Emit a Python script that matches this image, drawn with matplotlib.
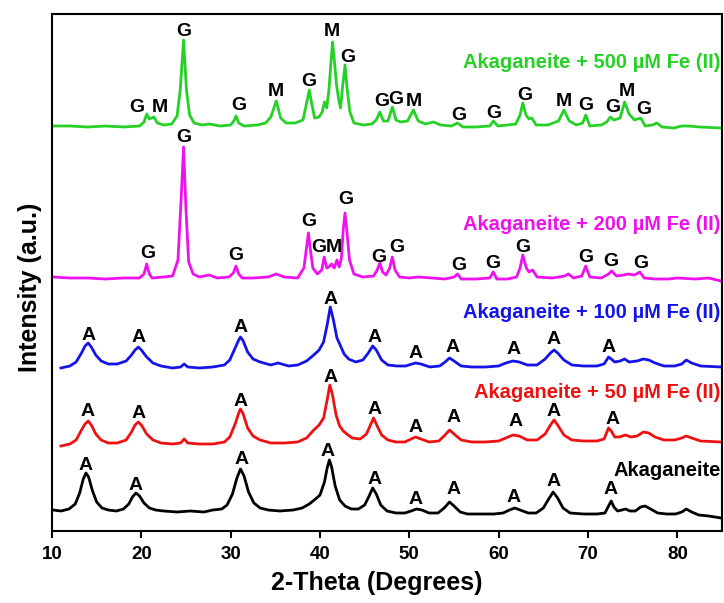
import numpy as np
import matplotlib
matplotlib.use("Agg")
import matplotlib.pyplot as plt

plt.rcParams['font.family'] = ['Liberation Sans', 'DejaVu Sans']
plt.rcParams['font.weight'] = 'bold'

# ---- XRD patterns, 2-theta (deg) vs intensity (a.u., stacked) ----
# Akaganeite
bk_x = [10.1, 11.0, 11.9, 12.6, 13.1, 13.5, 13.8, 14.1, 14.5, 15.0, 15.6, 16.3, 17.2, 18.0, 18.6,
        19.0, 19.4, 19.8, 20.3, 20.9, 21.6, 22.5, 24.0, 25.5, 27.0, 28.0, 29.0, 29.6, 30.2, 30.7,
        31.1, 31.5, 32.0, 32.6, 33.3, 34.2, 35.5, 37.0, 38.0, 38.8, 39.5, 40.0, 40.5, 40.8, 41.05,
        41.3, 41.7, 42.2, 42.8, 43.5, 44.3, 45.0, 45.5, 45.9, 46.3, 46.8, 47.5, 48.5, 49.5, 50.2,
        50.8, 51.4, 52.2, 53.2, 53.9, 54.5, 55.0, 55.7, 56.5, 58.0, 59.5, 60.5, 61.2, 61.8, 62.4,
        63.3, 64.2, 65.0, 65.6, 66.1, 66.6, 67.2, 68.0, 69.5, 71.0, 71.9, 72.3, 72.6, 72.9, 73.3,
        73.8, 74.2, 74.7, 75.3, 75.9, 76.4, 77.0, 77.8, 78.8, 79.8, 80.5, 81.0, 81.6, 82.4, 83.5, 84.9]
bk_y = [20, 19, 21, 26, 37, 51, 57, 53, 40, 28, 22, 20, 19, 21, 26,
        33, 37, 34, 27, 22, 20, 19, 18, 19, 18, 20, 21, 25, 36, 52,
        61, 54, 38, 27, 22, 20, 19, 20, 22, 26, 31, 35, 48, 62, 70,
        63, 44, 30, 24, 21, 21, 25, 34, 42, 36, 25, 19, 17, 17, 19,
        21, 20, 17, 17, 22, 28, 24, 18, 16, 16, 16, 17, 20, 22, 20,
        17, 17, 22, 31, 38, 32, 22, 17, 16, 16, 17, 24, 29, 23, 19,
        20, 21, 19, 19, 23, 24, 21, 17, 16, 16, 18, 21, 18, 15, 14, 12]
bk_lbl = ['A'] * 10
bk_lbl_x = [13.8, 19.4, 31.2, 40.8, 46.1, 50.7, 54.9, 61.7, 66.2, 72.5]
bk_lbl_y = [65, 45, 70, 78, 51, 30, 40, 33, 49, 40]

# Akaganeite + 50 uM Fe(II)
rd_x = [11.0, 12.0, 12.7, 13.3, 13.7, 14.05, 14.4, 14.9, 15.5, 16.3, 17.3, 18.3, 18.9, 19.3, 19.66,
        20.0, 20.6, 21.3, 22.2, 23.5, 24.4, 24.8, 25.2, 26.5, 28.0, 29.3, 29.9, 30.5, 30.9, 31.1,
        31.4, 31.9, 32.5, 33.3, 34.5, 36.0, 37.5, 38.5, 39.3, 39.9, 40.4, 40.8, 41.1, 41.4, 41.8,
        42.2, 42.6, 43.0, 43.6, 44.5, 45.2, 45.7, 46.0, 46.4, 46.9, 47.6, 48.5, 49.5, 50.2, 50.7,
        51.3, 52.2, 53.3, 54.0, 54.5, 55.0, 55.8, 57.0, 58.5, 60.0, 60.8, 61.6, 62.3, 63.2, 64.3,
        65.2, 65.8, 66.2, 66.6, 67.3, 68.2, 69.5, 71.0, 71.8, 72.3, 72.6, 73.0, 73.5, 74.2, 74.8,
        75.5, 76.2, 76.8, 77.5, 78.5, 79.7, 80.5, 81.0, 81.6, 82.6, 84.9]
rd_y = [84, 86, 90, 100, 106, 109, 105, 96, 90, 87, 87, 90, 98, 105, 108,
        105, 96, 90, 87, 86, 87, 91, 87, 86, 86, 88, 93, 106, 117, 121,
        116, 102, 94, 90, 87, 87, 88, 92, 100, 105, 112, 130, 145, 135, 115,
        104, 99, 96, 92, 91, 96, 106, 112, 104, 95, 90, 88, 88, 91, 93,
        91, 88, 89, 95, 100, 96, 90, 88, 88, 89, 92, 95, 94, 90, 90,
        96, 105, 110, 105, 95, 90, 89, 89, 91, 102, 99, 93, 93, 95, 93,
        94, 98, 97, 93, 90, 90, 92, 94, 92, 89, 88]
rd_lbl = ['A'] * 10
rd_lbl_x = [14.0, 19.7, 31.1, 41.2, 46.1, 50.7, 54.9, 61.9, 66.2, 72.8]
rd_lbl_y = [119, 117, 129, 153, 120, 102, 112, 108, 119, 110]

# Akaganeite + 100 uM Fe(II)
bl_x = [11.0, 12.0, 12.7, 13.3, 13.7, 14.05, 14.4, 14.9, 15.5, 16.3, 17.3, 18.3, 18.9, 19.3, 19.66,
        20.0, 20.6, 21.3, 22.2, 23.5, 24.4, 24.8, 25.2, 26.5, 28.0, 29.3, 29.9, 30.5, 30.9, 31.1,
        31.4, 31.9, 32.5, 33.3, 34.5, 35.3, 36.5, 37.5, 38.5, 39.3, 39.9, 40.4, 40.8, 41.15, 41.5,
        41.9, 42.3, 42.7, 43.2, 44.0, 44.8, 45.4, 45.9, 46.3, 46.9, 47.6, 48.6, 49.6, 50.3, 50.7,
        51.3, 52.3, 53.4, 54.0, 54.5, 55.0, 55.8, 57.0, 58.5, 60.0, 60.8, 61.6, 62.3, 63.2, 64.3,
        65.2, 65.8, 66.2, 66.6, 67.3, 68.2, 69.5, 71.0, 71.8, 72.3, 72.6, 73.0, 73.6, 74.1, 74.6,
        75.5, 76.2, 76.8, 77.5, 78.5, 79.7, 80.5, 81.0, 81.6, 82.6, 84.9]
bl_y = [162, 164, 168, 177, 184, 187, 183, 175, 169, 166, 166, 169, 175, 180, 183,
        180, 173, 167, 164, 162, 163, 166, 163, 162, 163, 165, 170, 182, 190, 193,
        189, 178, 171, 168, 165, 167, 164, 165, 169, 175, 180, 188, 205, 223, 210,
        192, 184, 176, 171, 168, 170, 177, 184, 180, 170, 165, 164, 164, 166, 167,
        166, 163, 164, 168, 172, 169, 164, 163, 163, 164, 167, 169, 168, 165, 165,
        171, 177, 180, 177, 170, 165, 164, 164, 166, 173, 171, 168, 169, 171, 168,
        169, 171, 170, 167, 164, 164, 166, 170, 167, 164, 163]
bl_lbl = ['A'] * 10
bl_lbl_x = [14.05, 19.66, 31.1, 41.2, 46.1, 50.7, 54.8, 61.7, 66.2, 72.3]
bl_lbl_y = [195, 192, 202, 230, 193, 177, 182, 181, 191, 182]

# Akaganeite + 200 uM Fe(II)
mg_x = [10.15, 12.0, 14.0, 16.0, 18.0, 19.8, 20.3, 20.6, 20.9, 21.2, 22.5, 23.5, 24.1, 24.45, 24.73,
        25.0, 25.3, 25.8, 26.5, 27.6, 28.5, 29.8, 30.3, 30.6, 30.9, 31.3, 32.5, 34.2, 35.1, 36.0,
        37.5, 38.2, 38.5, 38.7, 38.9, 39.2, 39.7, 40.2, 40.47, 40.75, 41.0, 41.3, 41.6, 41.9, 42.15,
        42.4, 42.6, 42.8, 43.0, 43.3, 43.8, 44.8, 46.0, 46.4, 46.7, 47.0, 47.4, 47.8, 48.1, 48.4,
        48.9, 50.0, 51.0, 52.5, 54.0, 55.0, 55.4, 55.8, 57.5, 59.0, 59.4, 59.8, 61.0, 62.0, 62.4,
        62.7, 63.1, 63.4, 63.8, 64.3, 66.0, 67.4, 67.8, 68.4, 69.3, 69.75, 70.2, 71.5, 72.3, 72.65,
        73.2, 74.0, 74.5, 75.2, 75.8, 76.3, 77.5, 79.0, 80.0, 82.0, 83.5, 84.9]
mg_y = [253, 252, 252, 251, 252, 252, 256, 266, 256, 252, 253, 254, 270, 330, 383,
        320, 268, 256, 253, 255, 252, 253, 257, 264, 256, 252, 252, 253, 256, 253,
        252, 262, 283, 297, 282, 262, 256, 260, 273, 262, 263, 266, 262, 270, 263,
        272, 300, 317, 300, 270, 256, 253, 254, 260, 267, 258, 255, 262, 273, 260,
        253, 252, 253, 252, 251, 253, 256, 251, 251, 252, 258, 251, 251, 253, 262,
        275, 262, 258, 260, 253, 252, 254, 256, 252, 254, 264, 253, 252, 256, 259,
        254, 255, 256, 255, 258, 252, 251, 251, 252, 251, 252, 249]
mg_lbl = ['G', 'G', 'G', 'G', 'G', 'M', 'G', 'G', 'G', 'G', 'G', 'G', 'G', 'G', 'G']
mg_lbl_x = [20.75, 24.75, 30.6, 38.8, 39.9, 41.6, 42.9, 46.6, 48.6, 55.5, 59.4, 62.7, 69.7, 72.5, 75.9]
mg_lbl_y = [277, 393, 275, 309, 283, 283, 330, 273, 282, 264, 267, 283, 273, 268, 267]

# Akaganeite + 500 uM Fe(II)
gr_x = [10.15, 12.0, 14.0, 16.0, 18.0, 19.8, 20.3, 20.6, 20.9, 21.15, 21.4, 21.8, 22.5, 23.4, 24.0,
        24.35, 24.73, 25.05, 25.4, 25.9, 26.8, 27.6, 28.8, 30.0, 30.35, 30.6, 30.9, 31.5, 33.0, 33.9,
        34.5, 35.1, 35.6, 36.2, 37.2, 38.1, 38.45, 38.8, 39.1, 39.4, 39.9, 40.25, 40.5, 40.75, 41.0,
        41.25, 41.4, 41.6, 41.85, 42.1, 42.3, 42.55, 42.8, 43.05, 43.35, 43.8, 44.8, 45.8, 46.3, 46.7,
        47.1, 47.6, 48.1, 48.5, 49.0, 49.8, 50.45, 51.0, 51.8, 52.7, 53.5, 54.7, 55.4, 56.0, 57.5,
        59.0, 59.4, 59.9, 61.0, 61.9, 62.4, 62.7, 63.05, 63.4, 63.7, 64.2, 65.5, 66.7, 67.3, 67.9,
        68.7, 69.4, 69.75, 70.2, 71.5, 72.1, 72.5, 72.9, 73.6, 74.1, 74.6, 75.2, 75.9, 76.4, 77.2,
        77.7, 78.3, 79.6, 80.5, 81.2, 82.5, 84.9]
gr_y = [404, 404, 403, 404, 403, 404, 408, 416, 411, 412, 413, 407, 405, 406, 414,
        440, 490, 440, 415, 407, 405, 406, 404, 405, 409, 414, 407, 404, 405, 407,
        413, 429, 412, 407, 407, 410, 425, 440, 425, 412, 413, 418, 428, 422, 440,
        470, 488, 470, 445, 430, 422, 445, 465, 440, 418, 407, 405, 406, 410, 418,
        409, 409, 423, 410, 408, 409, 420, 409, 406, 408, 405, 404, 407, 403, 403,
        404, 409, 404, 405, 406, 415, 427, 415, 411, 412, 405, 405, 409, 420, 409,
        405, 407, 415, 404, 405, 408, 413, 410, 412, 428, 416, 410, 412, 404, 405,
        407, 403, 402, 404, 404, 403, 402]
gr_lbl = ['G', 'M', 'G', 'G', 'M', 'G', 'M', 'G', 'G', 'G', 'M', 'G', 'G', 'G', 'M', 'G', 'G', 'M', 'G']
gr_lbl_x = [19.5, 22.05, 24.73, 30.9, 35.1, 38.8, 41.3, 43.1, 46.9, 48.5, 50.5, 55.5, 59.5, 62.9,
            67.3, 69.75, 72.75, 74.3, 76.3]
gr_lbl_y = [423, 422, 498, 424, 438, 448, 498, 473, 428, 431, 429, 415, 417, 434,
            429, 425, 423, 438, 420]

sample_names = ['Akaganeite', 'Akaganeite + 50 \u00b5M Fe (II)', 'Akaganeite + 100 \u00b5M Fe (II)',
                'Akaganeite + 200 \u00b5M Fe (II)', 'Akaganeite + 500 \u00b5M Fe (II)']
name_y = [60, 138, 218, 306, 467]

colors = ['black', '#ee1111', '#1414e6', '#ee11ee', '#26d126']

fig = plt.figure(figsize=(7.24, 6.03), dpi=100)
ax = fig.add_axes([52/724, 72/603, 670/724, 517/603])

traces = [(bk_x, bk_y, bk_lbl, bk_lbl_x, bk_lbl_y),
          (rd_x, rd_y, rd_lbl, rd_lbl_x, rd_lbl_y),
          (bl_x, bl_y, bl_lbl, bl_lbl_x, bl_lbl_y),
          (mg_x, mg_y, mg_lbl, mg_lbl_x, mg_lbl_y),
          (gr_x, gr_y, gr_lbl, gr_lbl_x, gr_lbl_y)]

for i, (tx, ty, lbl, lx, ly) in enumerate(traces):
    ax.plot(tx, ty, color=colors[i], lw=2.0, solid_joinstyle='round')
    for t, x, y in zip(lbl, lx, ly):
        ax.text(x, y, t, ha='center', va='center', fontsize=14, fontweight='bold', color='black')
    ax.text(84.85, name_y[i], sample_names[i], ha='right', va='center',
            fontsize=14.5, fontweight='bold', color=colors[i])

ax.set_xlim(10, 85)
ax.set_ylim(-1, 516)
ax.set_xticks(np.arange(10, 81, 10))
ax.set_yticks([])
ax.tick_params(axis='x', direction='out', length=5, width=1.5, pad=6, labelsize=13.5)
for lab in ax.get_xticklabels():
    lab.set_fontweight('bold')
for sp in ax.spines.values():
    sp.set_linewidth(1.5)

ax.set_xlabel('2-Theta (Degrees)', fontsize=18, fontweight='bold', va='center')
ax.xaxis.set_label_coords(0.484, -0.1006)
ax.set_ylabel('Intensity (a.u.)', fontsize=18, fontweight='bold', va='center')
ax.yaxis.set_label_coords(-0.0328, 0.472)

fig.savefig('out.png', dpi=100)
